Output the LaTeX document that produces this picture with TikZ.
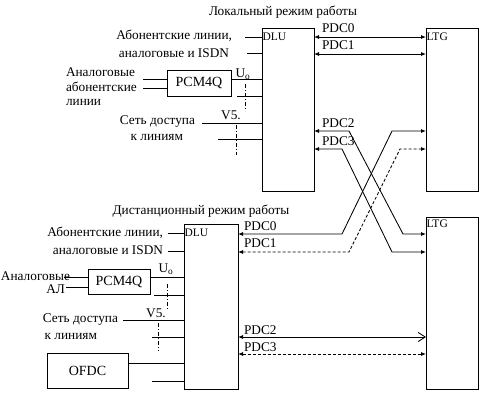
\documentclass[tikz,border=0pt]{standalone}
\usepackage{fontspec}
\setmainfont{Liberation Serif}
\usetikzlibrary{arrows.meta}
\begin{document}
\begin{tikzpicture}[x=1pt,y=-1pt,
  every node/.style={inner sep=0pt,outer sep=0pt},
  lbl/.style={font=\fontsize{13.3}{15}\selectfont},
  boxlbl/.style={font=\fontsize{11.5}{13}\selectfont},
  blk/.style={draw,line width=0.9pt,font=\fontsize{14}{16}\selectfont},
  tall/.style={draw,line width=0.9pt},
  ln/.style={line width=0.85pt},
  dl/.style={line width=0.85pt,dash pattern=on 3pt off 2pt},
  dd/.style={line width=0.7pt,dash pattern=on 4pt off 2pt on 1pt off 2pt},
  bi/.style={{Latex[length=5pt,width=4pt]}-{Latex[length=5pt,width=4pt]}},
  biopen/.style={{Latex[length=5pt,width=4pt]}-{Straight Barb[length=7pt,width=9pt]}}
  ]
\useasboundingbox (0,0) rectangle (500,402);
\fill[white] (0,0) rectangle (500,402);

% titles
\node[lbl] (t1) at (283,12) {Локальный режим работы};
\node[lbl] (t2) at (201,211) {Дистанционный режим работы};

% ---------- top section ----------
\node[tall,minimum width=52pt,minimum height=163pt] (DLU1) at (288,109.5) {};
\node[tall,minimum width=52pt,minimum height=163pt] (LTG1) at (452,109.5) {};
\node[boxlbl,anchor=west] (dlu1l) at (262.5,37) {DLU};
\node[boxlbl,anchor=west] (ltg1l) at (426.5,37) {LTG};
\node[blk,minimum width=64pt,minimum height=26pt] (PCM1) at (199,83) {PCM4Q};

\node[lbl,anchor=east] (a1) at (232,36) {Абонентские линии,};
\node[lbl,anchor=east] (a2) at (229,53) {аналоговые и ISDN};
\node[lbl,anchor=north west,align=left] (a3) at (66,68) {Аналоговые\\[-0.5pt]абонентские\\[-0.5pt]линии};
\node[lbl,anchor=east] (a4) at (195,122) {Сеть доступа};
\node[lbl,anchor=east] (a5) at (183,138) {к линиям};
\node[lbl] (u1) at (243,74) {U\textsubscript{o}};
\node[lbl] (v1) at (231,115) {V5.};

\draw[ln] (245,37) -- (DLU1.west |- 245,37);
\draw[ln] (247,53) -- (DLU1.west |- 247,53);
\draw[ln] (143,79) -- (PCM1.west |- 143,79);
\draw[ln] (143,88) -- (PCM1.west |- 143,88);
\draw[ln] (PCM1.east |- 0,79) -- (DLU1.west |- 0,79);
\draw[ln] (237,96) -- (DLU1.west |- 237,96);
\draw[ln] (202,123) -- (DLU1.west |- 202,123);
\draw[ln] (218,139) -- (DLU1.west |- 218,139);
\draw[dd] (245,84) -- (245,111);
\draw[dd] (236,125) -- (236,155);

% PDC labels top
\node[lbl,anchor=west] (p0) at (322,28) {PDC0};
\node[lbl,anchor=west] (p1) at (322,45) {PDC1};
\node[lbl,anchor=west] (p2) at (322,123) {PDC2};
\node[lbl,anchor=west] (p3) at (322,141) {PDC3};

\draw[ln,bi] (DLU1.east |- 0,37) -- (LTG1.west |- 0,37);
\draw[ln,bi] (DLU1.east |- 0,54) -- (LTG1.west |- 0,54);

% ---------- lower section ----------
\node[tall,minimum width=54pt,minimum height=165pt] (DLU2) at (211,306.5) {};
\node[tall,minimum width=52pt,minimum height=172pt] (LTG2) at (452,303) {};
\node[boxlbl,anchor=west] (dlu2l) at (184.5,233) {DLU};
\node[boxlbl,anchor=west] (ltg2l) at (426.5,224) {LTG};
\node[blk,minimum width=62pt,minimum height=25pt] (PCM2) at (119,281.5) {PCM4Q};
\node[blk,minimum width=81pt,minimum height=35pt] (OFDC) at (87.5,370.5) {OFDC};

\node[lbl,anchor=east] (b1) at (163,233) {Абонентские линии,};
\node[lbl,anchor=east] (b2) at (163,250) {аналоговые и ISDN};
\node[lbl,anchor=west] (b3) at (1,276) {Аналоговые};
\node[lbl,anchor=east] (b3b) at (65,289) {АЛ};
\node[lbl,anchor=east] (b4) at (118,320) {Сеть доступа};
\node[lbl,anchor=east] (b5) at (97,337) {к линиям};
\node[lbl] (u2) at (166,269) {U\textsubscript{o}};
\node[lbl] (v2) at (156,313) {V5.};

\draw[ln] (168,233) -- (DLU2.west |- 168,233);
\draw[ln] (168,251) -- (DLU2.west |- 168,251);
\draw[ln] (64,277) -- (PCM2.west |- 64,277);
\draw[ln] (66,287) -- (PCM2.west |- 66,287);
\draw[ln] (PCM2.east |- 0,277) -- (DLU2.west |- 0,277);
\draw[ln] (154,295) -- (DLU2.west |- 154,295);
\draw[ln] (123,320) -- (DLU2.west |- 123,320);
\draw[ln] (152,337) -- (DLU2.west |- 152,337);
\draw[ln] (OFDC.east |- 0,363) -- (DLU2.west |- 0,363);
\draw[ln] (152,381) -- (DLU2.west |- 152,381);
\draw[dd] (167,284) -- (167,309);
\draw[dd] (158,323) -- (158,351);

\node[lbl,anchor=west] (q0) at (244,226) {PDC0};
\node[lbl,anchor=west] (q1) at (244,243) {PDC1};
\node[lbl,anchor=west] (q2) at (244,330) {PDC2};
\node[lbl,anchor=west] (q3) at (244,347) {PDC3};

\draw[ln,biopen] (DLU2.east |- 0,337) -- (LTG2.west |- 0,337);
\draw[dl,bi] (DLU2.east |- 0,354) -- (LTG2.west |- 0,354);

% ---------- crossings ----------
\draw[ln,bi] (DLU1.east |- 0,131) -- (349,131) -- (403,234) -- (LTG2.west |- 0,234);
\draw[ln,bi] (DLU1.east |- 0,149) -- (342,149) -- (392,252) -- (LTG2.west |- 0,252);
\draw[ln,bi] (DLU2.east |- 0,234) -- (342,234) -- (392,131) -- (LTG1.west |- 0,131);
\draw[dl,bi] (DLU2.east |- 0,252) -- (349,252) -- (400,149) -- (LTG1.west |- 0,149);
\end{tikzpicture}
\end{document}
